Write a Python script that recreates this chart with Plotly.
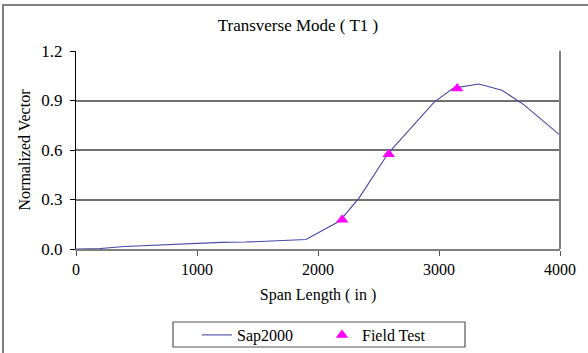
import plotly.graph_objects as go

# Sap2000 mode shape
span_sap = [0, 200, 400, 600, 800, 1000, 1200, 1400, 1600, 1900, 2180, 2340,
            2580, 2750, 2960, 3120, 3330, 3520, 3700, 4000]
vec_sap = [0.0, 0.003, 0.015, 0.022, 0.03, 0.035, 0.04, 0.042, 0.048, 0.058,
           0.17, 0.31, 0.58, 0.72, 0.89, 0.975, 1.0, 0.962, 0.875, 0.69]

# Field test
span_field = [2200, 2585, 3150]
vec_field = [0.177, 0.574, 0.972]

x_ticks = [0, 1000, 2000, 3000, 4000]
y_ticks = [0.0, 0.3, 0.6, 0.9, 1.2]
y_tick_labels = ["0.0", "0.3", "0.6", "0.9", "1.2"]

FONT = "Liberation Serif"
L, R, T, B = 76, 28, 51, 104
W, H = 588, 353
pw = W - L - R
ph = H - T - B

fig = go.Figure()
fig.add_trace(go.Scatter(x=span_sap, y=vec_sap, mode="lines", name="Sap2000",
                         line=dict(color="#4848a4", width=1.1)))
fig.add_trace(go.Scatter(x=span_field, y=vec_field, mode="markers", name="Field Test",
                         marker=dict(symbol="triangle-up", color="#ff00ff", size=11,
                                     line=dict(width=0))))

def px_x(p):
    return (p - L) / pw

def px_y(p):
    return (H - B - p) / ph

shapes = [
    # outer chart frame
    dict(type="rect", xref="paper", yref="paper",
         x0=px_x(3), x1=px_x(620), y0=px_y(400), y1=px_y(5),
         line=dict(color="#808080", width=2), fillcolor="rgba(0,0,0,0)", layer="below"),
    # right border of plot area
    dict(type="line", xref="paper", yref="paper", x0=1, x1=1, y0=0, y1=1,
         line=dict(color="#808080", width=2)),
    # legend box
    dict(type="rect", xref="paper", yref="paper",
         x0=px_x(173), x1=px_x(465), y0=px_y(347), y1=px_y(322),
         line=dict(color="#555555", width=1.2), fillcolor="rgba(0,0,0,0)"),
]

fig.update_layout(
    width=W, height=H,
    margin=dict(l=L, r=R, t=T, b=B, autoexpand=False),
    paper_bgcolor="white", plot_bgcolor="white",
    font=dict(family=FONT, size=16, color="black"),
    title=dict(text="Transverse Mode ( T1 )", x=298 / W, xanchor="center",
               y=1 - 25 / H, yanchor="middle", font=dict(family=FONT, size=17)),
    showlegend=True,
    legend=dict(orientation="h", x=px_x(197), xanchor="left", y=px_y(335), yanchor="middle",
                font=dict(family=FONT, size=16), bgcolor="rgba(0,0,0,0)",
                borderwidth=0, entrywidth=80, tracegroupgap=0,
                itemwidth=30),
    shapes=shapes,
)

fig.update_xaxes(range=[0, 4000], tickvals=x_ticks, ticktext=[str(v) for v in x_ticks],
                 showgrid=False, zeroline=False, showline=True, linecolor="#808080",
                 linewidth=2, ticks="outside", ticklen=5, tickcolor="#555555",
                 tickfont=dict(family=FONT, size=16),
                 title=dict(text="Span Length ( in )", font=dict(family=FONT, size=16),
                            standoff=12))
fig.update_yaxes(range=[0, 1.2], tickvals=y_ticks, ticktext=y_tick_labels,
                 showgrid=True, gridcolor="#707070", gridwidth=1.5, zeroline=False,
                 showline=True, linecolor="black", linewidth=1.2, ticks="outside",
                 ticklen=5, tickcolor="black", tickfont=dict(family=FONT, size=17),
                 ticklabelstandoff=4,
                 title=dict(text="Normalized Vector", font=dict(family=FONT, size=16),
                            standoff=6))

fig.write_html("out.html")
